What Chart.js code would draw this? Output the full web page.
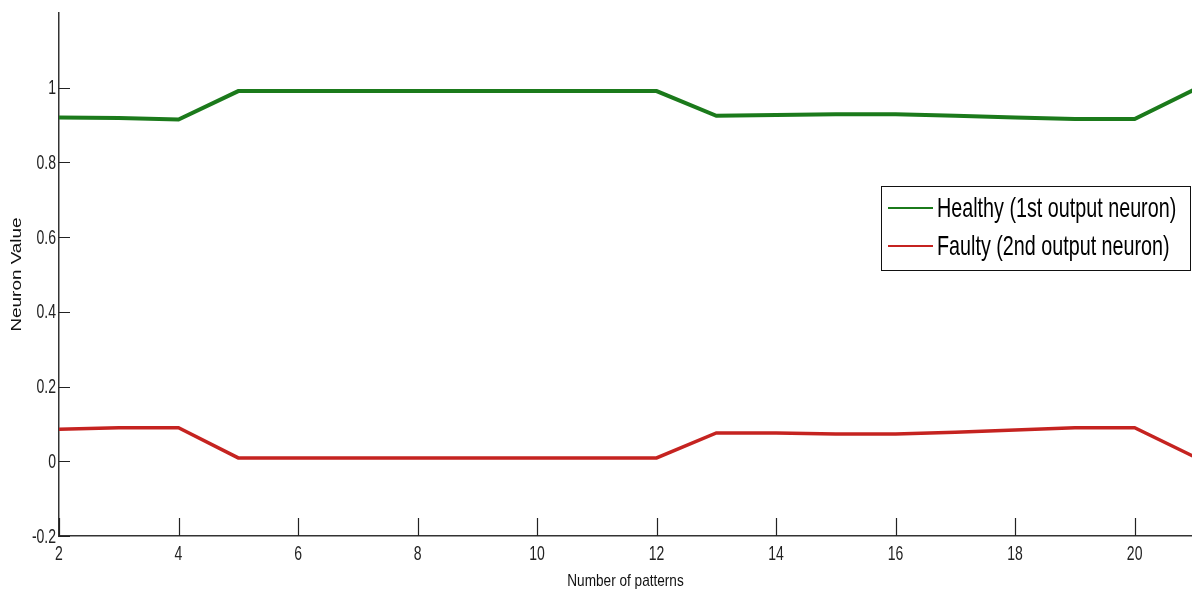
<!DOCTYPE html>
<html>
<head>
<meta charset="utf-8">
<script src="https://cdn.jsdelivr.net/npm/chart.js@4/dist/chart.umd.min.js"></script>
<style>
  html, body { margin: 0; padding: 0; background: #fff; overflow: hidden; }
</style>
</head>
<body>
<canvas id="neuron-chart" width="1192" height="596"></canvas>
<script>
// number of patterns
const patterns = [2, 3, 4, 5, 6, 7, 8, 9, 10, 11, 12, 13, 14, 15, 16, 17, 18, 19, 20, 21];
// output neuron values
const healthy = [0.920, 0.919, 0.915, 0.991, 0.991, 0.991, 0.991, 0.991, 0.991, 0.991, 0.991, 0.925, 0.927, 0.929, 0.929, 0.925, 0.920, 0.916, 0.916, 0.995];
const faulty = [0.086, 0.090, 0.090, 0.009, 0.009, 0.009, 0.009, 0.009, 0.009, 0.009, 0.009, 0.076, 0.076, 0.073, 0.073, 0.078, 0.084, 0.090, 0.090, 0.012];
const seriesLabels = ['Healthy (1st output neuron)', 'Faulty (2nd output neuron)'];
const xTicks = [2, 4, 6, 8, 10, 12, 14, 16, 18, 20];
const yTicks = [-0.2, 0, 0.2, 0.4, 0.6, 0.8, 1];
const xTitle = 'Number of patterns';
const yTitle = 'Neuron Value';

const SANS = "'Liberation Sans', Arial, sans-serif";

// draw text squeezed/stretched horizontally, to get the narrow matlab look
function squeezedText(ctx, text, x, y, sx, align) {
    ctx.save();
    ctx.translate(x, y);
    ctx.scale(sx, 1);
    ctx.textAlign = align;
    ctx.fillText(text, 0, 0);
    ctx.restore();
}

// matlab style axes: ticks pointing inward, narrow tick labels, titles
const matlabAxes = {
    id: 'matlabAxes',
    afterDraw(chart) {
        const { ctx, chartArea, scales } = chart;
        ctx.save();
        ctx.strokeStyle = '#222';
        ctx.lineWidth = 1.2;
        ctx.beginPath();
        xTicks.forEach(v => {
            const px = Math.round(scales.x.getPixelForValue(v)) + 0.5;
            ctx.moveTo(px, chartArea.bottom);
            ctx.lineTo(px, chartArea.bottom - 18);
        });
        yTicks.forEach(v => {
            const py = Math.round(scales.y.getPixelForValue(v)) + 0.5;
            ctx.moveTo(chartArea.left, py);
            ctx.lineTo(chartArea.left + 11, py);
        });
        ctx.stroke();

        ctx.fillStyle = '#222';
        ctx.textBaseline = 'middle';
        ctx.font = '20px ' + SANS;
        xTicks.forEach(v => {
            squeezedText(ctx, String(v), scales.x.getPixelForValue(v), chartArea.bottom + 18, 0.7, 'center');
        });
        yTicks.forEach(v => {
            const label = String(Math.round(v * 10) / 10);
            squeezedText(ctx, label, chartArea.left - 3, scales.y.getPixelForValue(v) + 1, 0.7, 'right');
        });

        ctx.fillStyle = '#111';
        ctx.font = '17px ' + SANS;
        squeezedText(ctx, xTitle, (chartArea.left + chartArea.right) / 2, 581, 0.8, 'center');

        ctx.font = '14px ' + SANS;
        ctx.save();
        ctx.translate(17, (chartArea.top + chartArea.bottom) / 2);
        ctx.rotate(-Math.PI / 2);
        squeezedText(ctx, yTitle, 0, 0, 1.35, 'center');
        ctx.restore();
        ctx.restore();
    }
};

// boxed legend sitting inside the axes
const boxLegend = {
    id: 'boxLegend',
    afterDraw(chart) {
        const ctx = chart.ctx;
        const x0 = 881, y0 = 186, w = 309, h = 84;
        ctx.save();
        ctx.fillStyle = '#fff';
        ctx.fillRect(x0, y0, w, h);
        ctx.strokeStyle = '#111';
        ctx.lineWidth = 1;
        ctx.strokeRect(x0 + 0.5, y0 + 0.5, w, h);
        ctx.font = '28px ' + SANS;
        ctx.textBaseline = 'middle';
        chart.data.datasets.forEach((ds, i) => {
            const cy = y0 + 22 + i * 38;
            ctx.strokeStyle = ds.borderColor;
            ctx.lineWidth = 2;
            ctx.beginPath();
            ctx.moveTo(x0 + 7, cy);
            ctx.lineTo(x0 + 52, cy);
            ctx.stroke();
            ctx.fillStyle = '#000';
            squeezedText(ctx, ds.label, x0 + 56, cy + 1, 0.705, 'left');
        });
        ctx.restore();
    }
};

new Chart('neuron-chart', {
    type: 'line',
    data: {
        datasets: [
            {
                label: seriesLabels[0],
                data: patterns.map((p, i) => ({ x: p, y: healthy[i] })),
                borderColor: '#1b7a1b',
                borderWidth: 4,
                pointRadius: 0,
                tension: 0
            },
            {
                label: seriesLabels[1],
                data: patterns.map((p, i) => ({ x: p, y: faulty[i] })),
                borderColor: '#c52320',
                borderWidth: 3.5,
                pointRadius: 0,
                tension: 0
            }
        ]
    },
    options: {
        responsive: false,
        animation: false,
        devicePixelRatio: 1,
        layout: { padding: { top: 13, left: 0, right: 0, bottom: 0 } },
        plugins: {
            legend: { display: false },
            tooltip: { enabled: false }
        },
        scales: {
            x: {
                type: 'linear',
                min: 2,
                max: 20.96,
                afterBuildTicks: scale => { scale.ticks = xTicks.map(v => ({ value: v })); },
                afterFit: scale => { scale.height = 60; },
                grid: { display: false, drawTicks: false },
                border: { display: true, color: '#333', width: 1.5 },
                ticks: { display: false }
            },
            y: {
                type: 'linear',
                min: -0.2,
                max: 1.2,
                afterBuildTicks: scale => { scale.ticks = yTicks.map(v => ({ value: v })); },
                afterFit: scale => { scale.width = 59; },
                grid: { display: false, drawTicks: false },
                border: { display: true, color: '#333', width: 1.5 },
                ticks: { display: false }
            }
        }
    },
    plugins: [matlabAxes, boxLegend]
});
</script>
</body>
</html>
